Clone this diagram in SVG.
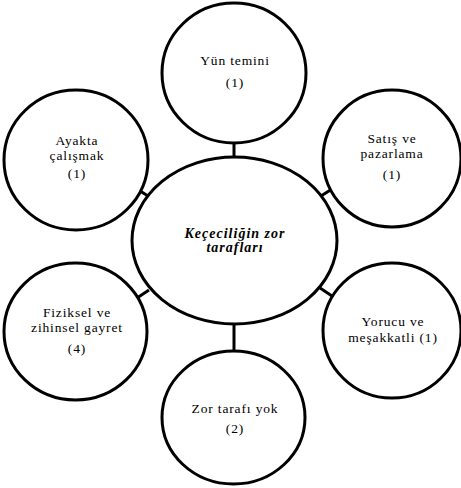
<svg xmlns="http://www.w3.org/2000/svg" width="461" height="488" viewBox="0 0 461 488">
<style>
.shape{fill:#ffffff;stroke:#000000;stroke-width:3}
.conn line{stroke:#000000;stroke-width:3}
.t{font-family:"Liberation Serif","Times New Roman",serif;font-size:13.5px;letter-spacing:0.85px;text-anchor:middle;fill:#000000}
.c{font-family:"Liberation Serif","Times New Roman",serif;font-size:14px;font-weight:bold;font-style:italic;letter-spacing:1px;text-anchor:middle;fill:#000000}
</style>
<rect width="461" height="488" fill="#ffffff"/>
<g id="connectors" class="conn">
<line x1="234" y1="142" x2="234" y2="158"/>
<line x1="137" y1="189" x2="148" y2="196"/>
<line x1="321" y1="196" x2="332" y2="189"/>
<line x1="137" y1="298" x2="149" y2="290"/>
<line x1="320" y1="288" x2="332" y2="296"/>
<line x1="234" y1="323" x2="234" y2="352"/>
</g>
<g id="center">
<ellipse class="shape" cx="234.5" cy="240.5" rx="102.5" ry="83.5"/>
<text class="c" x="235" y="238">Keçeciliğin zor</text>
<text class="c" x="235" y="252">tarafları</text>
</g>
<g id="yun-temini">
<ellipse class="shape" cx="234" cy="73" rx="72" ry="70"/>
<text class="t" x="235" y="65">Yün temini</text>
<text class="t" x="235" y="87">(1)</text>
</g>
<g id="ayakta">
<ellipse class="shape" cx="76" cy="160" rx="72" ry="70"/>
<text class="t" x="77" y="145">Ayakta</text>
<text class="t" x="77" y="160">çalışmak</text>
<text class="t" x="77" y="178">(1)</text>
</g>
<g id="satis">
<ellipse class="shape" cx="392" cy="158.5" rx="69" ry="68.5"/>
<text class="t" x="392" y="143">Satış ve</text>
<text class="t" x="392" y="158">pazarlama</text>
<text class="t" x="392" y="179">(1)</text>
</g>
<g id="fiziksel">
<ellipse class="shape" cx="75.5" cy="331.5" rx="71.5" ry="68.5"/>
<text class="t" x="77" y="317">Fiziksel ve</text>
<text class="t" x="77" y="332">zihinsel gayret</text>
<text class="t" x="77" y="353">(4)</text>
</g>
<g id="yorucu">
<ellipse class="shape" cx="392" cy="330.5" rx="69" ry="67.5"/>
<text class="t" x="393" y="326">Yorucu ve</text>
<text class="t" x="393" y="342">meşakkatli (1)</text>
</g>
<g id="zor-tarafi-yok">
<ellipse class="shape" cx="233.5" cy="417.5" rx="71.5" ry="66.5"/>
<text class="t" x="235" y="413">Zor tarafı yok</text>
<text class="t" x="235" y="433">(2)</text>
</g>
</svg>
